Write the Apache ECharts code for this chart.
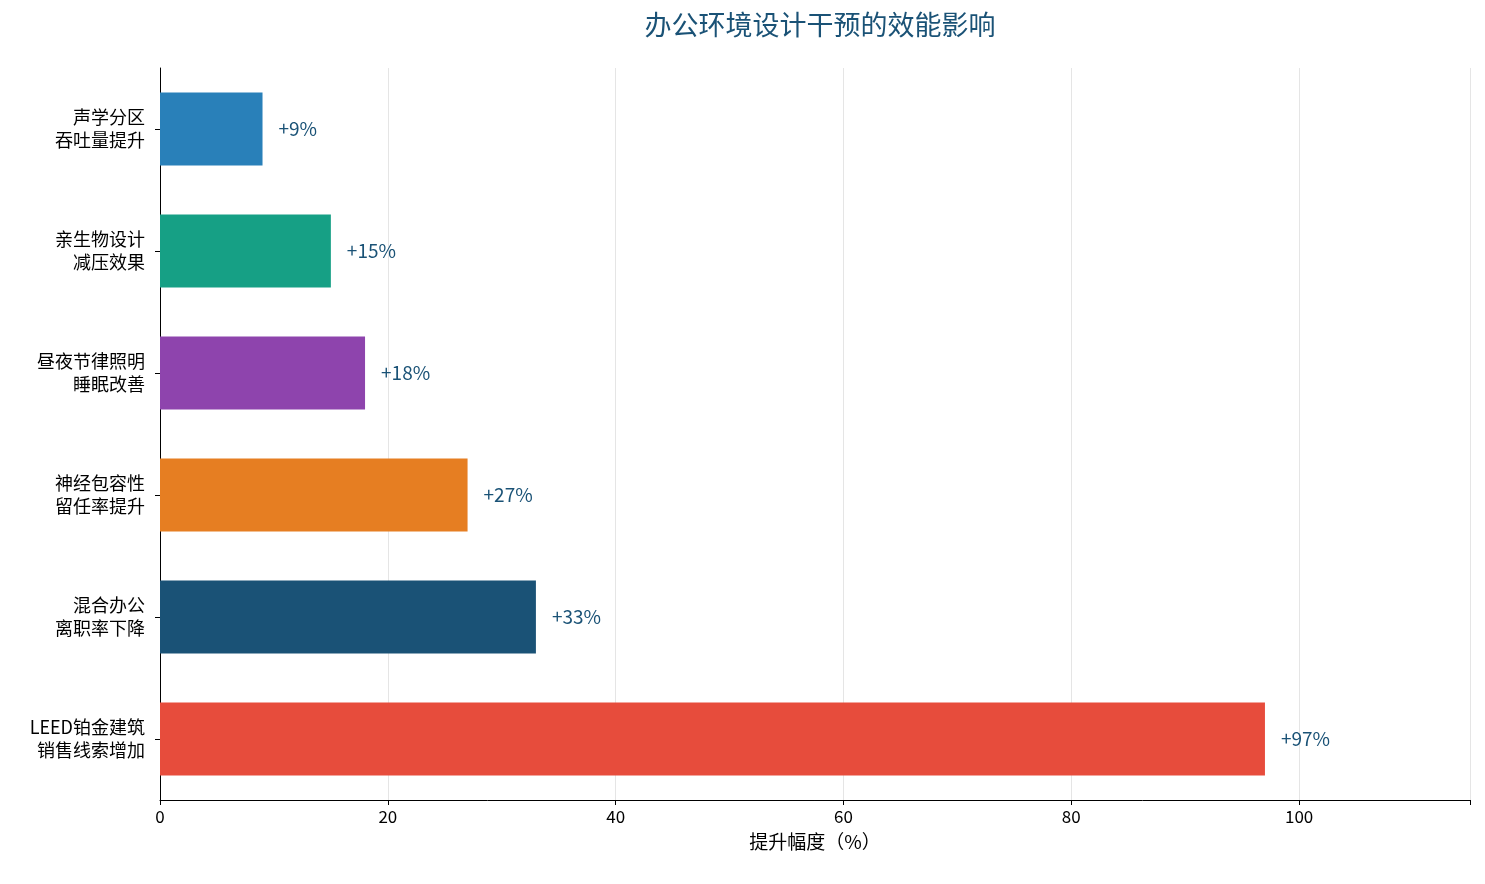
<!DOCTYPE html>
<html>
<head>
<meta charset="utf-8">
<script src="https://cdn.jsdelivr.net/npm/echarts@6/dist/echarts.min.js"></script>
<style>html,body{margin:0;padding:0;background:#fff}#main{width:1485px;height:884px}</style>
</head>
<body>
<div id="main"></div>
<script>
var categories = ['声学分区\n吞吐量提升', '亲生物设计\n减压效果', '昼夜节律照明\n睡眠改善', '神经包容性\n留任率提升', '混合办公\n离职率下降', 'LEED铂金建筑\n销售线索增加'];
var values = [9, 15, 18, 27, 33, 97];
var colors = ['#2980b9', '#16a085', '#8e44ad', '#e67e22', '#1a5276', '#e74c3c'];

var chart = echarts.init(document.getElementById('main'));
var font = '"Noto Sans CJK SC", "Noto Sans", sans-serif';

chart.setOption({
    animation: false,
    textStyle: { fontFamily: font },
    title: {
        text: '办公环境设计干预的效能影响',
        left: 815, top: 6, textAlign: 'center',
        textStyle: { color: '#1a5276', fontSize: 27, fontWeight: 'normal', fontFamily: font }
    },
    grid: { left: 160, right: 15, top: 68, bottom: 84 },
    xAxis: {
        type: 'value', min: 0, max: 115, interval: 20,
        name: '提升幅度（%）', nameLocation: 'middle', nameGap: 32,
        nameTextStyle: { color: '#000', fontSize: 19, fontFamily: font },
        axisLine: { show: true, lineStyle: { color: '#000' } },
        axisTick: { show: true, lineStyle: { color: '#000' } },
        axisLabel: { color: '#000', fontSize: 17, formatter: function (v) { return v > 100 ? '' : v; } },
        splitLine: { show: true, lineStyle: { color: '#e5e5e5' } }
    },
    yAxis: {
        type: 'category', data: categories, inverse: true,
        axisLine: { show: true, lineStyle: { color: '#000' } },
        axisTick: { show: true, alignWithLabel: true, lineStyle: { color: '#000' } },
        axisLabel: { color: '#000', fontSize: 18, lineHeight: 23, margin: 15 }
    },
    series: [{
        type: 'bar', barWidth: '60%',
        data: values.map(function (v, i) { return { value: v, itemStyle: { color: colors[i] } }; }),
        label: {
            show: true, position: 'right', distance: 16,
            color: '#1a5276', fontSize: 19,
            formatter: function (p) { return '+' + p.value + '%'; }
        }
    }]
});
</script>
</body>
</html>
